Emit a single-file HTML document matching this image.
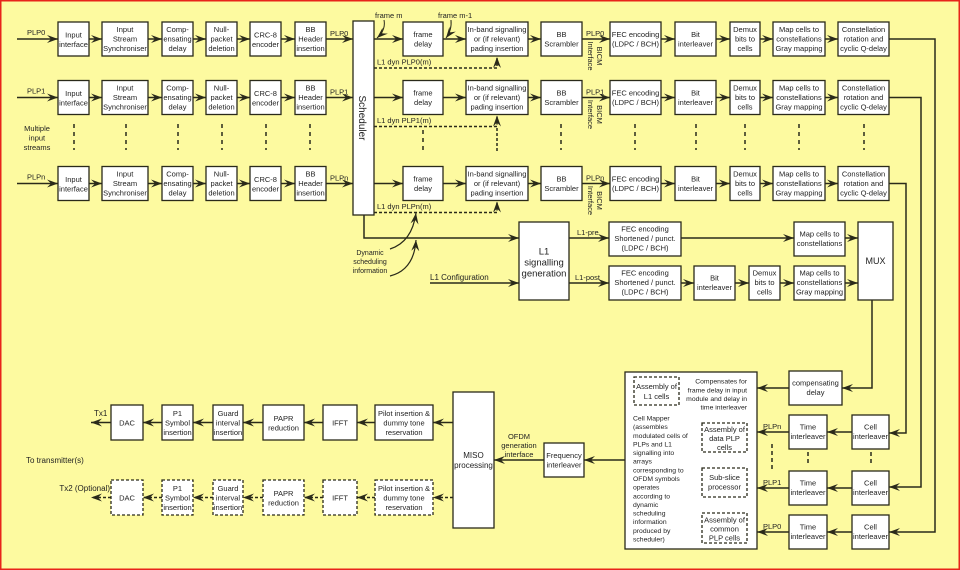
<!DOCTYPE html>
<html><head><meta charset="utf-8"><style>
html,body{margin:0;padding:0;background:#fdfaa0;}
svg{display:block;}
text{font-family:"Liberation Sans",sans-serif;font-size:7.5px;fill:#222;}
.b{fill:#fff;stroke:#2a2a1a;stroke-width:1.3;}
.d{fill:#fff;stroke:#2a2a1a;stroke-width:1.3;stroke-dasharray:3,2;}
.l{fill:none;stroke:#2a2a1a;stroke-width:1.5;}
.ld{fill:none;stroke:#2a2a1a;stroke-width:1.5;stroke-dasharray:3,2;}
.c{text-anchor:middle;}
</style></head><body>
<svg width="960" height="570" viewBox="0 0 960 570" xmlns="http://www.w3.org/2000/svg">
<defs>
<marker id="a" markerUnits="userSpaceOnUse" markerWidth="12" markerHeight="10" refX="11" refY="5" orient="auto">
<path d="M0,1 L11,5 L0,9 L4,5 z" fill="#2a2a1a"/></marker>
</defs>
<rect x="0.75" y="0.75" width="958.5" height="568.5" fill="#fdfaa0" stroke="#e8231a" stroke-width="1.5"/>

<!-- ROW 0 -->
<g>
<path class="l" d="M17,39H58" marker-end="url(#a)"/><text x="27" y="35" font-size="8.5">PLP0</text>
<rect class="b" x="58" y="22" width="31" height="34"/><text class="c" x="73.5" y="37.5">Input</text><text class="c" x="73.5" y="47">interface</text>
<path class="l" d="M89,39H102" marker-end="url(#a)"/>
<rect class="b" x="102" y="22" width="46" height="34"/><text class="c" x="125" y="32">Input</text><text class="c" x="125" y="41.5">Stream</text><text class="c" x="125" y="51">Synchroniser</text>
<path class="l" d="M148,39H162" marker-end="url(#a)"/>
<rect class="b" x="162" y="22" width="31" height="34"/><text class="c" x="177.5" y="32">Comp-</text><text class="c" x="177.5" y="41.5">ensating</text><text class="c" x="177.5" y="51">delay</text>
<path class="l" d="M193,39H206" marker-end="url(#a)"/>
<rect class="b" x="206" y="22" width="31" height="34"/><text class="c" x="221.5" y="32">Null-</text><text class="c" x="221.5" y="41.5">packet</text><text class="c" x="221.5" y="51">deletion</text>
<path class="l" d="M237,39H250" marker-end="url(#a)"/>
<rect class="b" x="250" y="22" width="31" height="34"/><text class="c" x="265.5" y="37.5">CRC-8</text><text class="c" x="265.5" y="47">encoder</text>
<path class="l" d="M281,39H295" marker-end="url(#a)"/>
<rect class="b" x="295" y="22" width="31" height="34"/><text class="c" x="310.5" y="32">BB</text><text class="c" x="310.5" y="41.5">Header</text><text class="c" x="310.5" y="51">insertion</text>
<path class="l" d="M326,39H353" marker-end="url(#a)"/><text x="330" y="36">PLP0</text>
<path class="l" d="M374,39H403" marker-end="url(#a)"/>
<rect class="b" x="403" y="22" width="40" height="34"/><text class="c" x="423" y="37">frame</text><text class="c" x="423" y="46.5">delay</text>
<path class="l" d="M443,39H466" marker-end="url(#a)"/>
<rect class="b" x="466" y="22" width="62" height="34"/><text class="c" x="497" y="32">In-band signalling</text><text class="c" x="497" y="41.5">or (if relevant)</text><text class="c" x="497" y="51">pading insertion</text>
<path class="l" d="M528,39H541" marker-end="url(#a)"/>
<rect class="b" x="541" y="22" width="41" height="34"/><text class="c" x="561.5" y="37">BB</text><text class="c" x="561.5" y="46.5">Scrambler</text>
<path class="l" d="M582,39H610" marker-end="url(#a)"/><text x="586" y="36">PLP0</text>
<text class="c" transform="translate(597,56) rotate(90)"><tspan x="0" y="0">BICM</tspan><tspan x="0" y="9">Interface</tspan></text>
<rect class="b" x="610" y="22" width="51" height="34"/><text class="c" x="635.5" y="37">FEC encoding</text><text class="c" x="635.5" y="46.5">(LDPC / BCH)</text>
<path class="l" d="M661,39H675" marker-end="url(#a)"/>
<rect class="b" x="675" y="22" width="41" height="34"/><text class="c" x="695.5" y="37">Bit</text><text class="c" x="695.5" y="46.5">interleaver</text>
<path class="l" d="M716,39H730" marker-end="url(#a)"/>
<rect class="b" x="730" y="22" width="30" height="34"/><text class="c" x="745" y="32">Demux</text><text class="c" x="745" y="41.5">bits to</text><text class="c" x="745" y="51">cells</text>
<path class="l" d="M760,39H773" marker-end="url(#a)"/>
<rect class="b" x="773" y="22" width="52" height="34"/><text class="c" x="799" y="32">Map cells to</text><text class="c" x="799" y="41.5">constellations</text><text class="c" x="799" y="51">Gray mapping</text>
<path class="l" d="M825,39H838" marker-end="url(#a)"/>
<rect class="b" x="838" y="22" width="51" height="34"/><text class="c" x="863.5" y="32">Constellation</text><text class="c" x="863.5" y="41.5">rotation and</text><text class="c" x="863.5" y="51">cyclic Q-delay</text>
<path class="ld" d="M374,68H497V57" marker-end="url(#a)"/><text x="377" y="64.5">L1 dyn PLP0(m)</text>
</g>
<text x="375" y="18">frame m</text><path class="l" style="stroke-width:1" d="M384,20Q386,30 377,38" marker-end="url(#a)"/>
<text x="438" y="18">frame m-1</text><path class="l" style="stroke-width:1" d="M451,20Q452,30 446,38" marker-end="url(#a)"/>

<!-- ROW 1 -->
<g transform="translate(0,58.5)">
<path class="l" d="M17,39H58" marker-end="url(#a)"/><text x="27" y="35" font-size="8.5">PLP1</text>
<rect class="b" x="58" y="22" width="31" height="34"/><text class="c" x="73.5" y="37.5">Input</text><text class="c" x="73.5" y="47">interface</text>
<path class="l" d="M89,39H102" marker-end="url(#a)"/>
<rect class="b" x="102" y="22" width="46" height="34"/><text class="c" x="125" y="32">Input</text><text class="c" x="125" y="41.5">Stream</text><text class="c" x="125" y="51">Synchroniser</text>
<path class="l" d="M148,39H162" marker-end="url(#a)"/>
<rect class="b" x="162" y="22" width="31" height="34"/><text class="c" x="177.5" y="32">Comp-</text><text class="c" x="177.5" y="41.5">ensating</text><text class="c" x="177.5" y="51">delay</text>
<path class="l" d="M193,39H206" marker-end="url(#a)"/>
<rect class="b" x="206" y="22" width="31" height="34"/><text class="c" x="221.5" y="32">Null-</text><text class="c" x="221.5" y="41.5">packet</text><text class="c" x="221.5" y="51">deletion</text>
<path class="l" d="M237,39H250" marker-end="url(#a)"/>
<rect class="b" x="250" y="22" width="31" height="34"/><text class="c" x="265.5" y="37.5">CRC-8</text><text class="c" x="265.5" y="47">encoder</text>
<path class="l" d="M281,39H295" marker-end="url(#a)"/>
<rect class="b" x="295" y="22" width="31" height="34"/><text class="c" x="310.5" y="32">BB</text><text class="c" x="310.5" y="41.5">Header</text><text class="c" x="310.5" y="51">insertion</text>
<path class="l" d="M326,39H353" marker-end="url(#a)"/><text x="330" y="36">PLP1</text>
<path class="l" d="M374,39H403" marker-end="url(#a)"/>
<rect class="b" x="403" y="22" width="40" height="34"/><text class="c" x="423" y="37">frame</text><text class="c" x="423" y="46.5">delay</text>
<path class="l" d="M443,39H466" marker-end="url(#a)"/>
<rect class="b" x="466" y="22" width="62" height="34"/><text class="c" x="497" y="32">In-band signalling</text><text class="c" x="497" y="41.5">or (if relevant)</text><text class="c" x="497" y="51">pading insertion</text>
<path class="l" d="M528,39H541" marker-end="url(#a)"/>
<rect class="b" x="541" y="22" width="41" height="34"/><text class="c" x="561.5" y="37">BB</text><text class="c" x="561.5" y="46.5">Scrambler</text>
<path class="l" d="M582,39H610" marker-end="url(#a)"/><text x="586" y="36">PLP1</text>
<text class="c" transform="translate(597,56) rotate(90)"><tspan x="0" y="0">BICM</tspan><tspan x="0" y="9">Interface</tspan></text>
<rect class="b" x="610" y="22" width="51" height="34"/><text class="c" x="635.5" y="37">FEC encoding</text><text class="c" x="635.5" y="46.5">(LDPC / BCH)</text>
<path class="l" d="M661,39H675" marker-end="url(#a)"/>
<rect class="b" x="675" y="22" width="41" height="34"/><text class="c" x="695.5" y="37">Bit</text><text class="c" x="695.5" y="46.5">interleaver</text>
<path class="l" d="M716,39H730" marker-end="url(#a)"/>
<rect class="b" x="730" y="22" width="30" height="34"/><text class="c" x="745" y="32">Demux</text><text class="c" x="745" y="41.5">bits to</text><text class="c" x="745" y="51">cells</text>
<path class="l" d="M760,39H773" marker-end="url(#a)"/>
<rect class="b" x="773" y="22" width="52" height="34"/><text class="c" x="799" y="32">Map cells to</text><text class="c" x="799" y="41.5">constellations</text><text class="c" x="799" y="51">Gray mapping</text>
<path class="l" d="M825,39H838" marker-end="url(#a)"/>
<rect class="b" x="838" y="22" width="51" height="34"/><text class="c" x="863.5" y="32">Constellation</text><text class="c" x="863.5" y="41.5">rotation and</text><text class="c" x="863.5" y="51">cyclic Q-delay</text>
<path class="ld" d="M374,68H497V57" marker-end="url(#a)"/><text x="377" y="64.5">L1 dyn PLP1(m)</text>
</g>

<!-- ROW n -->
<g transform="translate(0,144.5)">
<path class="l" d="M17,39H58" marker-end="url(#a)"/><text x="27" y="35" font-size="8.5">PLPn</text>
<rect class="b" x="58" y="22" width="31" height="34"/><text class="c" x="73.5" y="37.5">Input</text><text class="c" x="73.5" y="47">interface</text>
<path class="l" d="M89,39H102" marker-end="url(#a)"/>
<rect class="b" x="102" y="22" width="46" height="34"/><text class="c" x="125" y="32">Input</text><text class="c" x="125" y="41.5">Stream</text><text class="c" x="125" y="51">Synchroniser</text>
<path class="l" d="M148,39H162" marker-end="url(#a)"/>
<rect class="b" x="162" y="22" width="31" height="34"/><text class="c" x="177.5" y="32">Comp-</text><text class="c" x="177.5" y="41.5">ensating</text><text class="c" x="177.5" y="51">delay</text>
<path class="l" d="M193,39H206" marker-end="url(#a)"/>
<rect class="b" x="206" y="22" width="31" height="34"/><text class="c" x="221.5" y="32">Null-</text><text class="c" x="221.5" y="41.5">packet</text><text class="c" x="221.5" y="51">deletion</text>
<path class="l" d="M237,39H250" marker-end="url(#a)"/>
<rect class="b" x="250" y="22" width="31" height="34"/><text class="c" x="265.5" y="37.5">CRC-8</text><text class="c" x="265.5" y="47">encoder</text>
<path class="l" d="M281,39H295" marker-end="url(#a)"/>
<rect class="b" x="295" y="22" width="31" height="34"/><text class="c" x="310.5" y="32">BB</text><text class="c" x="310.5" y="41.5">Header</text><text class="c" x="310.5" y="51">insertion</text>
<path class="l" d="M326,39H353" marker-end="url(#a)"/><text x="330" y="36">PLPn</text>
<path class="l" d="M374,39H403" marker-end="url(#a)"/>
<rect class="b" x="403" y="22" width="40" height="34"/><text class="c" x="423" y="37">frame</text><text class="c" x="423" y="46.5">delay</text>
<path class="l" d="M443,39H466" marker-end="url(#a)"/>
<rect class="b" x="466" y="22" width="62" height="34"/><text class="c" x="497" y="32">In-band signalling</text><text class="c" x="497" y="41.5">or (if relevant)</text><text class="c" x="497" y="51">pading insertion</text>
<path class="l" d="M528,39H541" marker-end="url(#a)"/>
<rect class="b" x="541" y="22" width="41" height="34"/><text class="c" x="561.5" y="37">BB</text><text class="c" x="561.5" y="46.5">Scrambler</text>
<path class="l" d="M582,39H610" marker-end="url(#a)"/><text x="586" y="36">PLPn</text>
<text class="c" transform="translate(597,56) rotate(90)"><tspan x="0" y="0">BICM</tspan><tspan x="0" y="9">Interface</tspan></text>
<rect class="b" x="610" y="22" width="51" height="34"/><text class="c" x="635.5" y="37">FEC encoding</text><text class="c" x="635.5" y="46.5">(LDPC / BCH)</text>
<path class="l" d="M661,39H675" marker-end="url(#a)"/>
<rect class="b" x="675" y="22" width="41" height="34"/><text class="c" x="695.5" y="37">Bit</text><text class="c" x="695.5" y="46.5">interleaver</text>
<path class="l" d="M716,39H730" marker-end="url(#a)"/>
<rect class="b" x="730" y="22" width="30" height="34"/><text class="c" x="745" y="32">Demux</text><text class="c" x="745" y="41.5">bits to</text><text class="c" x="745" y="51">cells</text>
<path class="l" d="M760,39H773" marker-end="url(#a)"/>
<rect class="b" x="773" y="22" width="52" height="34"/><text class="c" x="799" y="32">Map cells to</text><text class="c" x="799" y="41.5">constellations</text><text class="c" x="799" y="51">Gray mapping</text>
<path class="l" d="M825,39H838" marker-end="url(#a)"/>
<rect class="b" x="838" y="22" width="51" height="34"/><text class="c" x="863.5" y="32">Constellation</text><text class="c" x="863.5" y="41.5">rotation and</text><text class="c" x="863.5" y="51">cyclic Q-delay</text>
<path class="ld" d="M374,68H497V57" marker-end="url(#a)"/><text x="377" y="64.5">L1 dyn PLPn(m)</text>
</g>

<!-- Scheduler -->
<rect class="b" x="353" y="21" width="21" height="194"/>
<text class="c" font-size="10" transform="translate(359,118) rotate(90)" style="font-size:10px">Scheduler</text>

<!-- vertical dots between rows -->
<g class="ld" style="stroke-dasharray:4,4">
<path class="ld" style="stroke-dasharray:4,4" d="M74,124V150M126,124V150M178,124V150M222,124V150M266,124V150M310,124V150M423,130V152M561,124V150M635,124V150M696,124V150M745,124V150M799,124V150M864,124V150"/>
<path class="ld" d="M497,128V152"/>
</g>
<text class="c" x="37" y="131">Multiple</text><text class="c" x="37" y="140.5">input</text><text class="c" x="37" y="150">streams</text>

<!-- right side return lines -->
<path class="l" d="M889,39H935V532H889" marker-end="url(#a)"/>
<path class="l" d="M889,97.5H921V487H889" marker-end="url(#a)"/>
<path class="l" d="M889,183.5H906V433H889" marker-end="url(#a)"/>

<!-- middle L1 -->
<path class="l" d="M364,215V238H519" marker-end="url(#a)"/>
<rect class="b" x="519" y="222" width="50" height="78"/>
<text class="c" x="544" y="254.5" style="font-size:9.5px">L1</text><text class="c" x="544" y="265.5" style="font-size:9.5px">signalling</text><text class="c" x="544" y="276.5" style="font-size:9.5px">generation</text>
<path class="l" d="M569,238H609" marker-end="url(#a)"/><text x="577" y="235">L1-pre</text>
<rect class="b" x="609" y="222" width="72" height="34"/><text class="c" x="645" y="231.5">FEC encoding</text><text class="c" x="645" y="241">Shortened / punct.</text><text class="c" x="645" y="250.5">(LDPC / BCH)</text>
<path class="l" d="M681,238H794" marker-end="url(#a)"/>
<rect class="b" x="794" y="222" width="51" height="34"/><text class="c" x="819.5" y="236.5">Map cells to</text><text class="c" x="819.5" y="246">constellations</text>
<path class="l" d="M845,238H858" marker-end="url(#a)"/>
<rect class="b" x="858" y="222" width="35" height="78"/><text class="c" x="875.5" y="264" style="font-size:9px">MUX</text>
<path class="l" d="M569,283H609" marker-end="url(#a)"/><text x="575" y="280">L1-post</text>
<rect class="b" x="609" y="266" width="72" height="34"/><text class="c" x="645" y="275.5">FEC encoding</text><text class="c" x="645" y="285">Shortened / punct.</text><text class="c" x="645" y="294.5">(LDPC / BCH)</text>
<path class="l" d="M681,283H694" marker-end="url(#a)"/>
<rect class="b" x="694" y="266" width="41" height="34"/><text class="c" x="714.5" y="280.5">Bit</text><text class="c" x="714.5" y="290">interleaver</text>
<path class="l" d="M735,283H749" marker-end="url(#a)"/>
<rect class="b" x="749" y="266" width="31" height="34"/><text class="c" x="764.5" y="275.5">Demux</text><text class="c" x="764.5" y="285">bits to</text><text class="c" x="764.5" y="294.5">cells</text>
<path class="l" d="M780,283H794" marker-end="url(#a)"/>
<rect class="b" x="794" y="266" width="51" height="34"/><text class="c" x="819.5" y="275.5">Map cells to</text><text class="c" x="819.5" y="285">constellations</text><text class="c" x="819.5" y="294.5">Gray mapping</text>
<path class="l" d="M845,283H858" marker-end="url(#a)"/>
<path class="l" d="M430,283H519" marker-end="url(#a)"/><text x="430" y="280" style="font-size:8px">L1 Configuration</text>
<text class="c" x="370" y="255" style="font-size:7px">Dynamic</text><text class="c" x="370" y="264" style="font-size:7px">scheduling</text><text class="c" x="370" y="273" style="font-size:7px">information</text>
<path class="l" style="stroke-width:1.2" d="M390,249Q412,242 416,213" marker-end="url(#a)"/>
<path class="l" style="stroke-width:1.2" d="M390,276Q414,270 416,240" marker-end="url(#a)"/>

<!-- MUX to compensating delay -->
<path class="l" d="M872,300V388H842" marker-end="url(#a)"/>
<rect class="b" x="789" y="371" width="53" height="34"/><text class="c" x="815.5" y="385.5">compensating</text><text class="c" x="815.5" y="395">delay</text>
<path class="l" d="M789,388H757" marker-end="url(#a)"/>

<!-- Time / cell interleavers -->
<rect class="b" x="789" y="415" width="38" height="34"/><text class="c" x="808" y="429.5">Time</text><text class="c" x="808" y="439">interleaver</text>
<rect class="b" x="789" y="471" width="38" height="34"/><text class="c" x="808" y="485.5">Time</text><text class="c" x="808" y="495">interleaver</text>
<rect class="b" x="789" y="515" width="38" height="34"/><text class="c" x="808" y="529.5">Time</text><text class="c" x="808" y="539">interleaver</text>
<rect class="b" x="852" y="415" width="37" height="34"/><text class="c" x="870.5" y="429.5">Cell</text><text class="c" x="870.5" y="439">interleaver</text>
<rect class="b" x="852" y="471" width="37" height="34"/><text class="c" x="870.5" y="485.5">Cell</text><text class="c" x="870.5" y="495">interleaver</text>
<rect class="b" x="852" y="515" width="37" height="34"/><text class="c" x="870.5" y="529.5">Cell</text><text class="c" x="870.5" y="539">interleaver</text>
<path class="l" d="M852,432H827" marker-end="url(#a)"/>
<path class="l" d="M852,488H827" marker-end="url(#a)"/>
<path class="l" d="M852,532H827" marker-end="url(#a)"/>
<path class="l" d="M789,432H757" marker-end="url(#a)"/><text x="763" y="429">PLPn</text>
<path class="l" d="M789,488H757" marker-end="url(#a)"/><text x="763" y="485">PLP1</text>
<path class="l" d="M789,532H757" marker-end="url(#a)"/><text x="763" y="529">PLP0</text>
<path class="ld" style="stroke-dasharray:4,3" d="M772,444V470M808,452V466M871,452V466"/>

<!-- Cell mapper -->
<rect class="b" x="625" y="372" width="132" height="177"/>
<rect class="d" x="634" y="377" width="45" height="28"/><text class="c" x="656.5" y="389">Assembly of</text><text class="c" x="656.5" y="399">L1 cells</text>
<g style="font-size:7px">
<text x="747" y="383.5" text-anchor="end" style="font-size:6.8px">Compensates for</text>
<text x="747" y="392.5" text-anchor="end" style="font-size:6.8px">frame delay in input</text>
<text x="747" y="401" text-anchor="end" style="font-size:6.8px">module and delay in</text>
<text x="747" y="409.5" text-anchor="end" style="font-size:6.8px">time interleaver</text>
</g>
<rect class="d" x="702" y="423" width="45" height="29"/><text class="c" x="724.5" y="432">Assembly of</text><text class="c" x="724.5" y="441">data PLP</text><text class="c" x="724.5" y="450">cells</text>
<rect class="d" x="702" y="468" width="45" height="29"/><text class="c" x="724.5" y="480">Sub-slice</text><text class="c" x="724.5" y="489.5">processor</text>
<rect class="d" x="702" y="513" width="45" height="30"/><text class="c" x="724.5" y="522.5">Assembly of</text><text class="c" x="724.5" y="531.5">common</text><text class="c" x="724.5" y="540.5">PLP cells</text>
<g>
<text x="633" y="420.5" style="font-size:6.8px">Cell Mapper</text>
<text x="633" y="429.1" style="font-size:6.8px">(assembles</text>
<text x="633" y="437.8" style="font-size:6.8px">modulated cells of</text>
<text x="633" y="446.4" style="font-size:6.8px">PLPs and L1</text>
<text x="633" y="455.1" style="font-size:6.8px">signalling into</text>
<text x="633" y="463.7" style="font-size:6.8px">arrays</text>
<text x="633" y="472.3" style="font-size:6.8px">corresponding to</text>
<text x="633" y="481" style="font-size:6.8px">OFDM symbols</text>
<text x="633" y="489.6" style="font-size:6.8px">operates</text>
<text x="633" y="498.3" style="font-size:6.8px">according to</text>
<text x="633" y="506.9" style="font-size:6.8px">dynamic</text>
<text x="633" y="515.5" style="font-size:6.8px">scheduling</text>
<text x="633" y="524.2" style="font-size:6.8px">information</text>
<text x="633" y="532.8" style="font-size:6.8px">produced by</text>
<text x="633" y="541.5" style="font-size:6.8px">scheduler)</text>
</g>

<!-- Freq interleaver / MISO -->
<path class="l" d="M625,460H584" marker-end="url(#a)"/>
<rect class="b" x="544" y="443" width="40" height="34"/><text class="c" x="564" y="458">Frequency</text><text class="c" x="564" y="467.5">interleaver</text>
<path class="l" d="M544,460H494" marker-end="url(#a)"/>
<text class="c" x="519" y="439">OFDM</text><text class="c" x="519" y="448">generation</text><text class="c" x="519" y="457">interface</text>
<rect class="b" x="453" y="392" width="41" height="136"/><text class="c" x="473.5" y="458" style="font-size:8px">MISO</text><text class="c" x="473.5" y="468" style="font-size:8px">processing</text>

<!-- Tx1 chain -->
<path class="l" d="M453,422.5H433" marker-end="url(#a)"/>
<rect class="b" x="375" y="405" width="58" height="35"/><text class="c" x="404" y="416">Pilot insertion &amp;</text><text class="c" x="404" y="425.5">dummy tone</text><text class="c" x="404" y="435">reservation</text>
<path class="l" d="M375,422.5H357" marker-end="url(#a)"/>
<rect class="b" x="323" y="405" width="34" height="35"/><text class="c" x="340" y="425.5">IFFT</text>
<path class="l" d="M323,422.5H304" marker-end="url(#a)"/>
<rect class="b" x="263" y="405" width="41" height="35"/><text class="c" x="283.5" y="421">PAPR</text><text class="c" x="283.5" y="430.5">reduction</text>
<path class="l" d="M263,422.5H243" marker-end="url(#a)"/>
<rect class="b" x="213" y="405" width="30" height="35"/><text class="c" x="228" y="416">Guard</text><text class="c" x="228" y="425.5">interval</text><text class="c" x="228" y="435">insertion</text>
<path class="l" d="M213,422.5H193" marker-end="url(#a)"/>
<rect class="b" x="162" y="405" width="31" height="35"/><text class="c" x="177.5" y="416">P1</text><text class="c" x="177.5" y="425.5">Symbol</text><text class="c" x="177.5" y="435">insertion</text>
<path class="l" d="M162,422.5H143" marker-end="url(#a)"/>
<rect class="b" x="111" y="405" width="32" height="35"/><text class="c" x="127" y="425.5">DAC</text>
<path class="l" d="M111,422.5H91" marker-end="url(#a)"/><text x="94" y="416" style="font-size:8px">Tx1</text>
<text x="26" y="463" style="font-size:8px">To transmitter(s)</text>

<!-- Tx2 chain -->
<path class="ld" d="M453,497.5H433" marker-end="url(#a)"/>
<rect class="d" x="375" y="480" width="58" height="35"/><text class="c" x="404" y="491">Pilot insertion &amp;</text><text class="c" x="404" y="500.5">dummy tone</text><text class="c" x="404" y="510">reservation</text>
<path class="ld" d="M375,497.5H357" marker-end="url(#a)"/>
<rect class="d" x="323" y="480" width="34" height="35"/><text class="c" x="340" y="500.5">IFFT</text>
<path class="ld" d="M323,497.5H304" marker-end="url(#a)"/>
<rect class="d" x="263" y="480" width="41" height="35"/><text class="c" x="283.5" y="496">PAPR</text><text class="c" x="283.5" y="505.5">reduction</text>
<path class="ld" d="M263,497.5H243" marker-end="url(#a)"/>
<rect class="d" x="213" y="480" width="30" height="35"/><text class="c" x="228" y="491">Guard</text><text class="c" x="228" y="500.5">interval</text><text class="c" x="228" y="510">insertion</text>
<path class="ld" d="M213,497.5H193" marker-end="url(#a)"/>
<rect class="d" x="162" y="480" width="31" height="35"/><text class="c" x="177.5" y="491">P1</text><text class="c" x="177.5" y="500.5">Symbol</text><text class="c" x="177.5" y="510">insertion</text>
<path class="ld" d="M162,497.5H143" marker-end="url(#a)"/>
<rect class="d" x="111" y="480" width="32" height="35"/><text class="c" x="127" y="500.5">DAC</text>
<path class="ld" d="M111,497.5H91" marker-end="url(#a)"/><text x="110" y="491" text-anchor="end" style="font-size:8px">Tx2 (Optional)</text>
</svg>
</body></html>
